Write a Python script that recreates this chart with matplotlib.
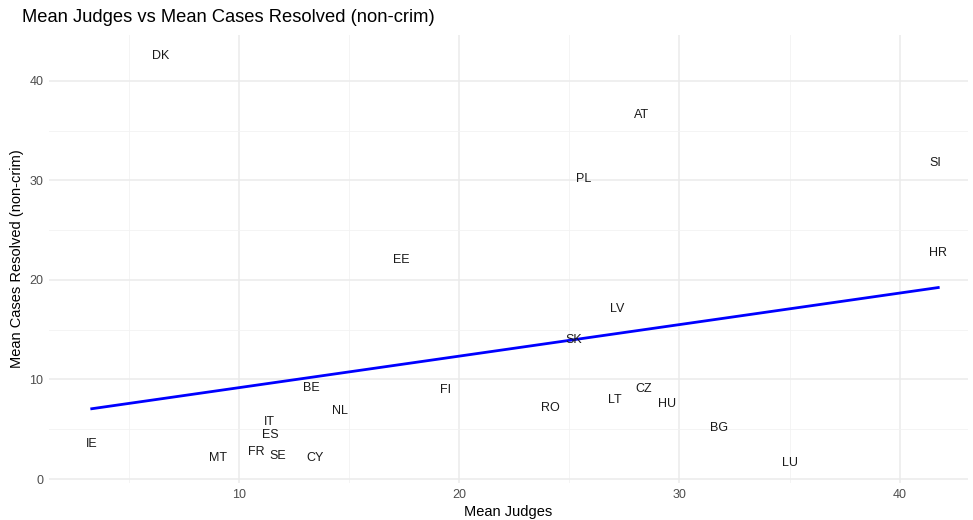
import numpy as np
import matplotlib.pyplot as plt
from matplotlib.ticker import MultipleLocator

plt.rcParams['font.family'] = ['Liberation Sans', 'DejaVu Sans']

# country codes with mean judges / mean resolved non-criminal cases
countries = ['DK', 'AT', 'SI', 'PL', 'HR', 'EE', 'LV', 'SK', 'BE', 'FI', 'CZ', 'RO',
             'LT', 'HU', 'NL', 'IT', 'BG', 'ES', 'IE', 'FR', 'SE', 'MT', 'CY', 'LU']
mean_judges = [6.45, 28.3, 41.6, 25.65, 41.75, 17.4, 27.2, 25.2, 13.3, 19.4, 28.4, 24.15,
               27.05, 29.45, 14.6, 11.4, 31.8, 11.45, 3.33, 10.8, 11.77, 9.05, 13.45, 35.0]
mean_cases = [42.6, 36.7, 31.8, 30.2, 22.8, 22.1, 17.2, 14.1, 9.25, 9.05, 9.15, 7.2,
              8.0, 7.6, 6.9, 5.8, 5.2, 4.5, 3.6, 2.8, 2.4, 2.2, 2.2, 1.7]

x = np.array(mean_judges)
y = np.array(mean_cases)

fig = plt.figure(figsize=(9.73, 5.20), dpi=100)
ax = fig.add_axes([49 / 973, 37 / 520, 919 / 973, 448 / 520])

# ggplot-like minimal theme
ax.set_facecolor('white')
for s in ax.spines.values():
    s.set_visible(False)
ax.xaxis.set_major_locator(MultipleLocator(10))
ax.xaxis.set_minor_locator(MultipleLocator(5))
ax.yaxis.set_major_locator(MultipleLocator(10))
ax.yaxis.set_minor_locator(MultipleLocator(5))
ax.grid(which='major', color='#ebebeb', linewidth=1.1)
ax.grid(which='minor', color='#f2f2f2', linewidth=0.6)
ax.tick_params(which='both', length=0)
ax.tick_params(labelsize=9, labelcolor='#4d4d4d', pad=4)
ax.set_axisbelow(True)

for lab, xi, yi in zip(countries, x, y):
    ax.text(xi, yi - 0.1, lab, ha='center', va='center', fontsize=9, color='#1a1a1a')

# linear fit (lm, no se)
slope, intercept = np.polyfit(x, y, 1)
xs = np.linspace(x.min(), x.max(), 80)
ax.plot(xs, slope * xs + intercept, color='#0000ff', linewidth=2)

ax.set_xlim(1.39, 43.1)
ax.set_ylim(-0.4, 44.6)

ax.set_xlabel('Mean Judges', fontsize=10.5, labelpad=3)
ax.set_ylabel('Mean Cases Resolved (non-crim)', fontsize=10.5, labelpad=4)
fig.text(0.0226, 0.967, 'Mean Judges vs Mean Cases Resolved (non-crim)',
         fontsize=13.2, ha='left', va='center')

fig.savefig('out.png', dpi=100)
